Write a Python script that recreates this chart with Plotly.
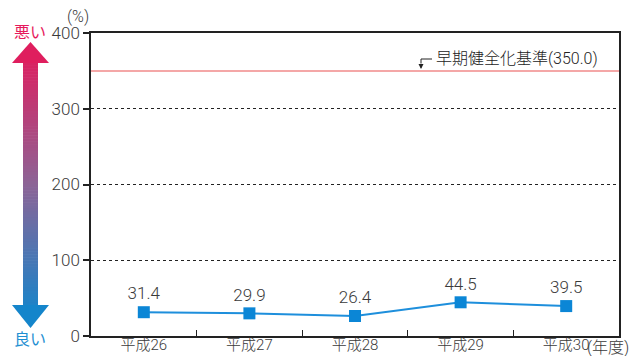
import plotly.graph_objects as go

categories = ["平成26", "平成27", "平成28", "平成29", "平成30"]
values = [31.4, 29.9, 26.4, 44.5, 39.5]
value_labels = ["31.4", "29.9", "26.4", "44.5", "39.5"]
y_ticks = [0, 100, 200, 300, 400]
threshold = 350.0
threshold_label = "早期健全化基準(350.0)"

W, H = 639, 356
L, R, T, B = 91, 20, 33, 20
PW, PH = W - L - R, H - T - B

def px(x):
    return (x - L) / PW

def py(y):
    return (H - B - y) / PH

FONT = "Roboto, Noto Sans CJK JP"
TXT = "#3a3a3a"

fig = go.Figure()
fig.add_trace(go.Scatter(
    x=categories, y=values, mode="lines+markers+text",
    text=value_labels, textposition="top center",
    textfont=dict(size=17, color=TXT, family=FONT, weight=300),
    line=dict(color="#1e8fdc", width=2),
    marker=dict(symbol="square", size=12, color="#0b86d6"),
    cliponaxis=False, showlegend=False,
))

shapes = []
shapes.append(dict(type="line", xref="paper", yref="y", x0=0, x1=1, y0=threshold, y1=threshold,
                   line=dict(color="#f08a8a", width=1.5), layer="below"))
shapes.append(dict(type="path", xref="paper", yref="paper",
                   path=f"M {px(432)},{py(59)} L {px(421)},{py(59)} L {px(421)},{py(63)}",
                   line=dict(color="#222222", width=1)))

top_c = (230, 24, 90)
mid_c = (140, 100, 150)
bot_c = (10, 136, 208)

def lerp(a, b, t):
    return tuple(int(round(a[i] + (b[i] - a[i]) * t)) for i in range(3))

def grad(t):
    if t < 0.5:
        return lerp(top_c, mid_c, t / 0.5)
    return lerp(mid_c, bot_c, (t - 0.5) / 0.5)

tip_top, base_top = 42, 63
base_bot, tip_bot = 305, 328
cx, sw, hw = 30.5, 7.5, 18.5
n = 80
y0 = base_top - 1
y1 = base_bot + 1
for i in range(n):
    ya = y0 + (y1 - y0) * i / n
    yb = y0 + (y1 - y0) * (i + 1) / n + 0.6
    frac = ((ya + yb) / 2 - tip_top) / (tip_bot - tip_top)
    c = grad(frac)
    shapes.append(dict(type="rect", xref="paper", yref="paper",
                       x0=px(cx - sw), x1=px(cx + sw), y0=py(ya), y1=py(yb),
                       fillcolor=f"rgb{c}", line=dict(width=0), layer="above"))
c_top = grad(((tip_top + base_top) / 2 - tip_top) / (tip_bot - tip_top))
c_bot = grad(((tip_bot + base_bot) / 2 - tip_top) / (tip_bot - tip_top))
shapes.append(dict(type="path", xref="paper", yref="paper",
                   path=f"M {px(cx)},{py(tip_top)} L {px(cx + hw)},{py(base_top)} L {px(cx - hw)},{py(base_top)} Z",
                   fillcolor=f"rgb{c_top}", line=dict(width=0)))
shapes.append(dict(type="path", xref="paper", yref="paper",
                   path=f"M {px(cx)},{py(tip_bot)} L {px(cx + hw)},{py(base_bot)} L {px(cx - hw)},{py(base_bot)} Z",
                   fillcolor=f"rgb{c_bot}", line=dict(width=0)))

annotations = [
    dict(xref="paper", yref="paper", x=px(434), y=py(58), text=threshold_label,
         showarrow=False, xanchor="left", yanchor="middle",
         font=dict(size=16, color="#222222", family=FONT, weight=300)),
    dict(xref="paper", yref="paper", x=px(421), y=py(69), ax=0, ay=-7,
         showarrow=True, arrowhead=2, arrowsize=1, arrowwidth=1, arrowcolor="#222222", text=""),
    dict(xref="paper", yref="paper", x=px(78), y=py(16), text="(%)", showarrow=False,
         xanchor="center", yanchor="middle", font=dict(size=16, color=TXT, family=FONT, weight=300)),
    dict(xref="paper", yref="paper", x=px(30), y=py(32), text="悪い", showarrow=False,
         xanchor="center", yanchor="middle", font=dict(size=16, color="#e6195c", family=FONT)),
    dict(xref="paper", yref="paper", x=px(30), y=py(339), text="良い", showarrow=False,
         xanchor="center", yanchor="middle", font=dict(size=16, color="#1f8fd2", family=FONT)),
    dict(xref="paper", yref="paper", x=px(585), y=py(347), text="(年度)", showarrow=False,
         xanchor="left", yanchor="middle", font=dict(size=16, color=TXT, family=FONT, weight=300)),
]

fig.update_layout(
    width=W, height=H, margin=dict(l=L, r=R, t=T, b=B, autoexpand=False),
    paper_bgcolor="white", plot_bgcolor="white",
    shapes=shapes, annotations=annotations,
    font=dict(family=FONT, color=TXT),
    xaxis=dict(type="category", range=[-0.5, 4.5], tickson="boundaries", ticks="inside",
               ticklen=6, tickcolor="#222222", tickwidth=1, automargin=False,
               ticklabelstandoff=-6,
               showline=True, linecolor="#222222", linewidth=1.5, mirror=True,
               showgrid=False, tickfont=dict(size=15, color=TXT, family=FONT, weight=300)),
    yaxis=dict(range=[0, 400], tickvals=y_ticks, ticks="outside", ticklen=6,
               tickcolor="#222222", tickwidth=1.5, automargin=False,
               showline=True, linecolor="#222222", linewidth=1.5, mirror=True,
               showgrid=True, gridcolor="#222222", gridwidth=1, griddash="3px,3px",
               zeroline=False, tickfont=dict(size=17, color=TXT, family=FONT, weight=300)),
)

fig.write_html("out.html")
